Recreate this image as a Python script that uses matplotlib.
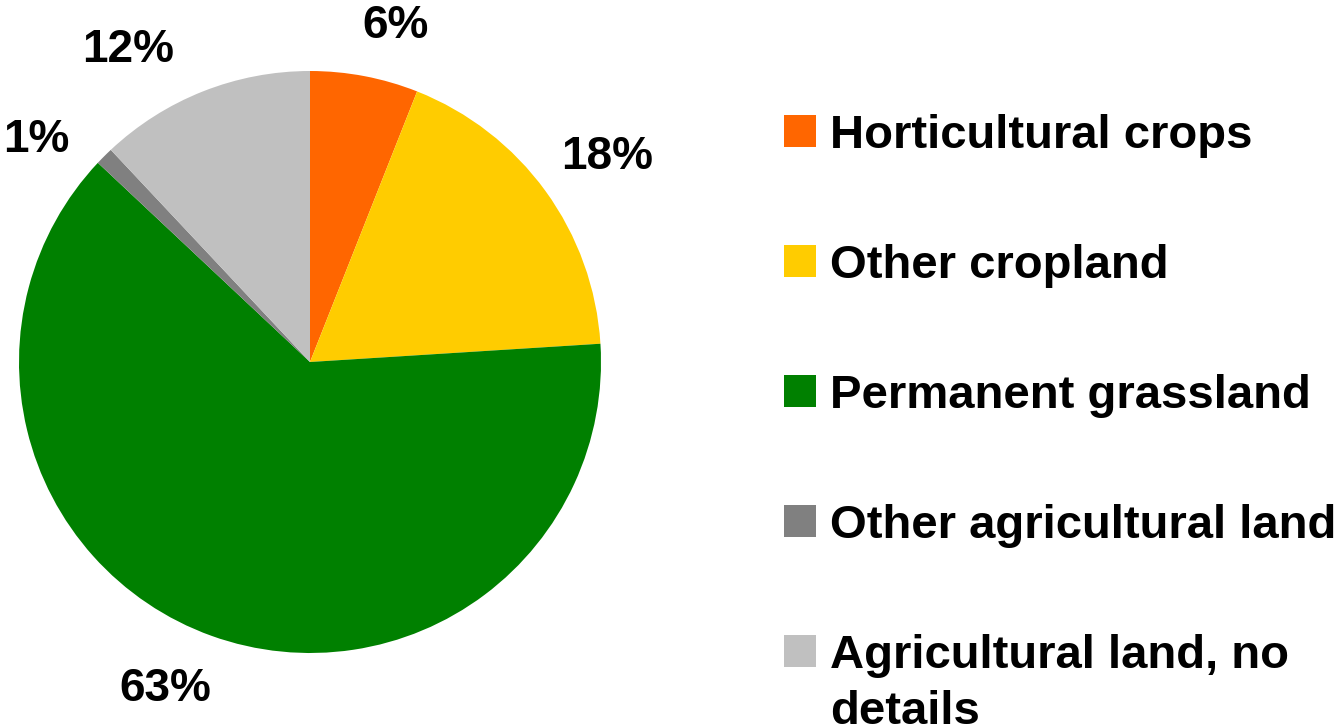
import matplotlib
matplotlib.use("Agg")
import matplotlib.pyplot as plt
from matplotlib.patches import Rectangle
import numpy as np

categories = ["Horticultural crops", "Other cropland", "Permanent grassland",
              "Other agricultural land", "Agricultural land, no\ndetails"]
values = [6, 18, 63, 1, 12]
colors = ["#FF6600", "#FFCC00", "#008000", "#808080", "#C0C0C0"]

plt.rcParams['font.family'] = ['Liberation Sans', 'DejaVu Sans']

W, H = 1342, 726
fig = plt.figure(figsize=(W / 100, H / 100), dpi=100)
ax = fig.add_axes([0, 0, 1, 1])

cx, cy, R = 310, H - 362, 291
fs = 33
lfs = 34

wedges, texts, autotexts = ax.pie(
    values, colors=colors, startangle=90, counterclock=False,
    center=(cx, cy), radius=R, autopct=lambda p: f"{p:.0f}%",
    pctdistance=1.22, wedgeprops=dict(linewidth=0),
    textprops=dict(fontsize=fs, fontweight='bold', color='black'))

# nudge labels (clockwise degrees, radius factor) similar to the original layout
shifts = [3.5, 1.4, 4.1, -5.9, -8.7]
dists = [1.19, 1.24, 1.23, 1.21, 1.24]
for w, t, s, d in zip(wedges, autotexts, shifts, dists):
    mid = np.deg2rad((w.theta1 + w.theta2) / 2 - s)
    t.set_position((cx + d * R * np.cos(mid), cy + d * R * np.sin(mid)))
    t.set_ha('center')
    t.set_va('center')

ax.set_xlim(0, W)
ax.set_ylim(0, H)
ax.set_aspect('auto')
ax.axis('off')

# legend
lx, lsz, ltx = 784, 32, 830
ly0, ldy = 131, 130
line_px = 56
for i, (cat, col) in enumerate(zip(categories, colors)):
    yc = H - (ly0 + ldy * i)
    ax.add_patch(Rectangle((lx, yc - lsz / 2), lsz, lsz, facecolor=col,
                           edgecolor='none'))
    for j, line in enumerate(cat.split("\n")):
        ax.text(ltx, yc - 17 - j * line_px, line, fontsize=lfs,
                fontweight='bold', ha='left', va='baseline', color='black')

fig.savefig("out.png", dpi=100)
